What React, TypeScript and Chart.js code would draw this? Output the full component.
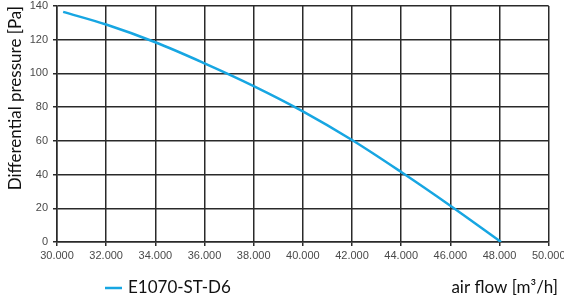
import React, { useEffect, useRef } from "react";
import { Chart, registerables } from "chart.js";

Chart.register(...registerables);

const seriesLabel = "E1070-ST-D6";
const xAxisTitle = "air flow [m³/h]";
const yAxisTitle = "Differential pressure [Pa]";
const flowValues = [30250, 32000, 34000, 36000, 38000, 40000, 42000, 44000, 46000, 48060];
const pressureValues = [136.5, 129, 118.5, 106, 92.5, 77.5, 60.5, 41.5, 21.5, 0];
const xMin = 30000;
const xMax = 50000;
const xStep = 2000;
const yMin = 0;
const yMax = 140;
const yStep = 20;

const LINE_COLOR = "#17a6e2";
const GRID_COLOR = "#2a2a2a";
const TICK_COLOR = "#4a4a4a";
const TEXT_COLOR = "#111111";
const TEXT_FONT = "Lato, 'Noto Sans', sans-serif";

const legendRowPlugin = {
  id: "legendRow",
  afterDraw(chart: any) {
    const ctx = chart.ctx;
    const ds = chart.data.datasets[0];
    const y = 288;
    ctx.save();
    ctx.strokeStyle = ds.borderColor;
    ctx.lineWidth = 2.5;
    ctx.beginPath();
    ctx.moveTo(105, y);
    ctx.lineTo(122, y);
    ctx.stroke();
    ctx.font = `17px ${TEXT_FONT}`;
    ctx.fillStyle = TEXT_COLOR;
    ctx.textBaseline = "middle";
    ctx.textAlign = "left";
    ctx.fillText(ds.label, 128, y);
    ctx.textAlign = "right";
    ctx.fillText(xAxisTitle, 558, y);
    ctx.restore();
  },
};

export default function App() {
  const canvasRef = useRef<HTMLCanvasElement | null>(null);

  useEffect(() => {
    if (!canvasRef.current) return;
    const data = flowValues.map((x, i) => ({ x, y: pressureValues[i] }));
    const chart = new Chart(canvasRef.current, {
      type: "line",
      data: {
        datasets: [
          {
            label: seriesLabel,
            data,
            borderColor: LINE_COLOR,
            backgroundColor: LINE_COLOR,
            borderWidth: 2.5,
            pointRadius: 0,
            tension: 0.35,
            fill: false,
          },
        ],
      },
      options: {
        animation: false,
        responsive: false,
        maintainAspectRatio: false,
        layout: { padding: { left: 0, top: 6, right: 15.3, bottom: 0 } },
        plugins: {
          legend: { display: false },
          tooltip: { enabled: false },
        },
        scales: {
          x: {
            type: "linear",
            min: xMin,
            max: xMax,
            afterFit: (s: any) => {
              s.height = 60;
              s.paddingLeft = 0;
              s.paddingRight = 0;
            },
            ticks: {
              stepSize: xStep,
              color: TICK_COLOR,
              font: { family: "'Liberation Sans', Arial, sans-serif", size: 11 },
              padding: 3,
              maxRotation: 0,
              callback: (v: any) => (Number(v) / 1000).toFixed(3),
            },
            grid: { color: GRID_COLOR, lineWidth: 1.5, tickLength: 4, tickColor: GRID_COLOR },
            border: { color: GRID_COLOR, width: 1.5 },
          },
          y: {
            type: "linear",
            min: yMin,
            max: yMax,
            afterFit: (s: any) => {
              s.width = 57;
              s.paddingTop = 0;
              s.paddingBottom = 0;
            },
            ticks: {
              stepSize: yStep,
              color: TICK_COLOR,
              font: { family: "'Liberation Sans', Arial, sans-serif", size: 11 },
              padding: 5,
            },
            grid: { color: GRID_COLOR, lineWidth: 1.5, tickLength: 4, tickColor: GRID_COLOR },
            border: { color: GRID_COLOR, width: 1.5 },
            title: {
              display: true,
              text: yAxisTitle,
              align: "end",
              color: TEXT_COLOR,
              font: { family: TEXT_FONT, size: 17 },
              padding: { top: 5, bottom: 0 },
            },
          },
        },
      },
      plugins: [legendRowPlugin],
    } as any);
    return () => chart.destroy();
  }, []);

  return (
    <div style={{ position: "absolute", left: 0, top: 0, width: 564, height: 302, background: "#fff" }}>
      <canvas ref={canvasRef} width={564} height={302} style={{ display: "block" }} />
    </div>
  );
}
